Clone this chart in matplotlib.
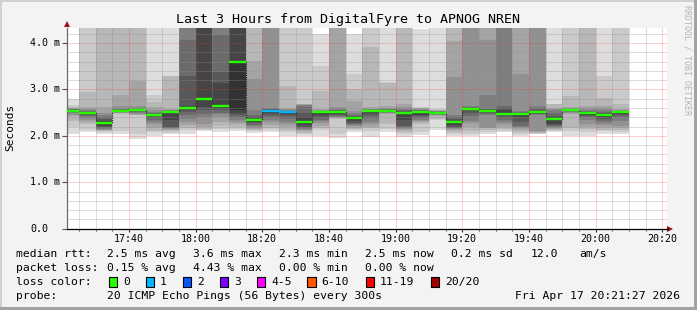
import numpy as np
import pandas as pd
import matplotlib
matplotlib.use("Agg")
import matplotlib.pyplot as plt
from matplotlib.patches import Rectangle, Polygon
from matplotlib.transforms import blended_transform_factory

# 5-minute slots, 20 sorted ping times (ms) per slot; values above the plot top are clipped
first_slot = "17:20"
slot_minutes = 5
median_ms = [2.54, 2.49, 2.28, 2.54, 2.56, 2.46, 2.51, 2.60, 2.80, 2.64, 3.60, 2.35,
             2.54, 2.51, 2.30, 2.51, 2.51, 2.39, 2.54, 2.54, 2.50, 2.51, 2.50, 2.29,
             2.59, 2.54, 2.48, 2.47, 2.51, 2.36, 2.56, 2.49, 2.45, 2.51]
lost_pings = [0] * 12 + [1, 1] + [0] * 20
pings = [
    [2.04, 2.20, 2.33, 2.42, 2.44, 2.49, 2.51, 2.52, 2.53, 2.54, 2.55, 2.55, 2.56, 2.57, 2.58, 2.59, 2.60, 2.62, 2.66, 2.80],
    [2.08, 2.13, 2.26, 2.30, 2.35, 2.38, 2.42, 2.45, 2.47, 2.48, 2.50, 2.51, 2.52, 2.54, 2.56, 2.58, 2.62, 2.94, 4.60, 5.00],
    [2.05, 2.08, 2.11, 2.12, 2.13, 2.15, 2.17, 2.19, 2.22, 2.26, 2.29, 2.32, 2.36, 2.40, 2.45, 2.49, 2.62, 4.50, 4.80, 5.20],
    [2.03, 2.10, 2.47, 2.49, 2.50, 2.51, 2.52, 2.52, 2.53, 2.535, 2.545, 2.55, 2.56, 2.57, 2.58, 2.65, 2.89, 4.50, 4.90, 5.40],
    [1.93, 2.04, 2.44, 2.46, 2.48, 2.50, 2.52, 2.53, 2.54, 2.555, 2.565, 2.57, 2.58, 2.59, 2.60, 2.65, 3.19, 4.50, 4.80, 5.10],
    [2.00, 2.08, 2.11, 2.18, 2.25, 2.29, 2.35, 2.40, 2.44, 2.455, 2.465, 2.47, 2.48, 2.50, 2.52, 2.56, 2.62, 2.72, 2.89, 4.60],
    [2.04, 2.07, 2.10, 2.12, 2.14, 2.16, 2.18, 2.20, 2.35, 2.50, 2.515, 2.52, 2.53, 2.54, 2.55, 2.56, 2.58, 3.28, 3.30, 4.70],
    [2.04, 2.12, 2.18, 2.24, 2.30, 2.36, 2.45, 2.52, 2.58, 2.595, 2.61, 2.65, 3.30, 4.07, 4.50, 4.60, 4.80, 5.00, 5.30, 5.60],
    [2.10, 2.12, 2.15, 2.20, 2.26, 2.40, 2.47, 2.55, 2.62, 2.78, 2.82, 4.40, 4.50, 4.60, 4.70, 4.80, 5.00, 5.20, 5.50, 6.00],
    [2.08, 2.15, 2.22, 2.30, 2.40, 2.47, 2.50, 2.55, 2.60, 2.63, 2.65, 3.13, 3.38, 4.17, 4.50, 4.60, 4.80, 5.00, 5.30, 5.60],
    [2.10, 2.15, 2.20, 2.26, 2.30, 2.35, 2.40, 2.45, 2.50, 2.56, 3.62, 4.50, 4.60, 4.70, 4.80, 5.00, 5.20, 5.50, 5.80, 6.20],
    [2.06, 2.10, 2.13, 2.15, 2.18, 2.21, 2.24, 2.27, 2.30, 2.34, 2.355, 2.37, 2.40, 2.45, 2.56, 3.23, 3.61, 4.50, 4.80, 5.20],
    [2.08, 2.13, 2.18, 2.24, 2.30, 2.35, 2.40, 2.45, 2.50, 2.53, 2.55, 2.56, 2.57, 2.58, 2.60, 4.50, 4.60, 4.80, 5.00, 5.40],
    [2.00, 2.08, 2.13, 2.20, 2.26, 2.30, 2.36, 2.42, 2.47, 2.50, 2.515, 2.52, 2.53, 2.54, 2.55, 2.57, 2.60, 3.08, 4.60, 5.00],
    [2.00, 2.04, 2.07, 2.10, 2.12, 2.15, 2.18, 2.20, 2.24, 2.29, 2.31, 2.40, 2.50, 2.62, 2.66, 2.67, 2.68, 2.69, 4.60, 5.00],
    [2.00, 2.12, 2.18, 2.22, 2.28, 2.33, 2.35, 2.40, 2.45, 2.50, 2.515, 2.52, 2.52, 2.53, 2.54, 2.55, 2.58, 2.96, 3.51, 4.19],
    [1.96, 2.04, 2.37, 2.39, 2.40, 2.41, 2.43, 2.45, 2.47, 2.50, 2.515, 2.52, 2.53, 2.55, 2.58, 2.62, 4.50, 4.60, 4.80, 5.10],
    [2.08, 2.12, 2.15, 2.18, 2.21, 2.24, 2.26, 2.28, 2.33, 2.38, 2.395, 2.41, 2.43, 2.46, 2.50, 2.54, 2.76, 3.01, 3.33, 4.20],
    [1.97, 2.10, 2.16, 2.20, 2.25, 2.30, 2.38, 2.45, 2.50, 2.53, 2.545, 2.55, 2.555, 2.56, 2.57, 2.58, 2.62, 3.91, 4.60, 5.00],
    [2.08, 2.15, 2.26, 2.47, 2.49, 2.50, 2.51, 2.52, 2.53, 2.535, 2.545, 2.55, 2.56, 2.57, 2.58, 2.60, 2.65, 3.15, 3.16, 4.60],
    [1.97, 2.03, 2.08, 2.12, 2.14, 2.17, 2.20, 2.22, 2.35, 2.49, 2.505, 2.52, 2.53, 2.55, 2.58, 2.62, 2.69, 4.50, 4.80, 5.20],
    [2.02, 2.08, 2.25, 2.30, 2.32, 2.34, 2.38, 2.42, 2.46, 2.50, 2.515, 2.52, 2.53, 2.55, 2.56, 2.58, 2.60, 2.61, 2.62, 4.30],
    [2.13, 2.35, 2.37, 2.42, 2.45, 2.46, 2.47, 2.48, 2.49, 2.495, 2.505, 2.51, 2.52, 2.525, 2.53, 2.54, 2.55, 2.56, 2.58, 4.60],
    [2.00, 2.05, 2.09, 2.12, 2.14, 2.16, 2.18, 2.20, 2.24, 2.28, 2.30, 2.33, 2.36, 2.40, 2.44, 3.26, 4.05, 4.50, 4.80, 5.20],
    [2.00, 2.05, 2.11, 2.20, 2.28, 2.33, 2.42, 2.50, 2.55, 2.58, 2.595, 2.60, 2.61, 2.63, 2.65, 4.50, 4.60, 4.80, 5.00, 5.40],
    [2.04, 2.08, 2.12, 2.16, 2.18, 2.45, 2.48, 2.50, 2.52, 2.53, 2.545, 2.56, 2.57, 2.58, 2.89, 4.07, 4.50, 4.80, 5.00, 5.40],
    [2.08, 2.11, 2.14, 2.20, 2.26, 2.30, 2.35, 2.40, 2.44, 2.47, 2.49, 2.55, 2.60, 2.65, 4.50, 4.60, 4.70, 4.90, 5.20, 5.60],
    [2.00, 2.04, 2.08, 2.12, 2.16, 2.20, 2.22, 2.30, 2.40, 2.46, 2.475, 2.49, 2.50, 2.52, 2.54, 3.34, 4.50, 4.80, 5.00, 5.40],
    [2.04, 2.05, 2.06, 2.09, 2.11, 2.46, 2.47, 2.48, 2.49, 2.50, 2.515, 2.53, 2.56, 2.60, 2.65, 4.50, 4.60, 4.80, 5.00, 5.40],
    [2.08, 2.10, 2.12, 2.14, 2.16, 2.19, 2.22, 2.24, 2.26, 2.35, 2.37, 2.40, 2.43, 2.50, 2.56, 2.58, 2.61, 2.68, 2.69, 4.60],
    [2.00, 2.10, 2.18, 2.48, 2.50, 2.52, 2.53, 2.54, 2.55, 2.555, 2.56, 2.565, 2.57, 2.58, 2.59, 2.60, 2.62, 2.85, 4.60, 5.00],
    [2.00, 2.08, 2.14, 2.20, 2.26, 2.35, 2.40, 2.43, 2.46, 2.48, 2.495, 2.50, 2.51, 2.53, 2.56, 2.60, 2.65, 4.50, 4.80, 5.20],
    [2.04, 2.10, 2.13, 2.18, 2.24, 2.28, 2.32, 2.36, 2.40, 2.44, 2.455, 2.47, 2.49, 2.52, 2.56, 2.60, 2.65, 2.82, 3.28, 4.60],
    [2.04, 2.08, 2.13, 2.18, 2.22, 2.33, 2.40, 2.45, 2.48, 2.50, 2.51, 2.515, 2.52, 2.53, 2.54, 2.56, 2.58, 2.69, 4.60, 5.00],
]

loss_labels = ["0", "1", "2", "3", "4-5", "6-10", "11-19", "20/20"]
loss_colors = ["#26ff00", "#00b8ff", "#0059ff", "#7e00ff", "#ff00ff", "#ff5500", "#ff0000", "#a10000"]

stats_rtt = ["2.5 ms avg", "3.6 ms max", "2.3 ms min", "2.5 ms now", "0.2 ms sd", "12.0", "am/s"]
stats_loss = ["0.15 % avg", "4.43 % max", "0.00 % min", "0.00 % now"]
probe_text = "20 ICMP Echo Pings (56 Bytes) every 300s"
stamp = "Fri Apr 17 20:21:27 2026"
window_end = "20:21:27"

MONO = "DejaVu Sans Mono"
W, H = 697, 310

fig = plt.figure(figsize=(W / 100, H / 100), dpi=100, facecolor="#f3f3f3")


def fx(px):
    return px / W


def fy(py):
    return 1 - py / H


# frame shading like rrdtool
fig.patches.append(Rectangle((0, fy(2)), 1, 2 / H, transform=fig.transFigure, color="#d0d0d0", lw=0))
fig.patches.append(Rectangle((0, 0), 2 / W, 1, transform=fig.transFigure, color="#d0d0d0", lw=0))
fig.patches.append(Rectangle((0, 0), 1, 3 / H, transform=fig.transFigure, color="#a3a3a3", lw=0))
fig.patches.append(Rectangle((fx(694), 0), 3 / W, 1, transform=fig.transFigure, color="#a3a3a3", lw=0))

ax = fig.add_axes([fx(67), fy(228.7), 600 / W, 200.7 / H])
ax.set_facecolor("white")

# time in minutes after 17:00
base = pd.Timestamp("2026-04-17 17:00")
slots = pd.date_range("2026-04-17 " + first_slot, periods=len(median_ms), freq=f"{slot_minutes}min")
slot_x = (slots - base).total_seconds() / 60
end_x = (pd.Timestamp("2026-04-17 " + window_end) - base).total_seconds() / 60
ax.set_xlim(end_x - 180, end_x)
ax.set_ylim(0, 4.325)

# smoke: nested layers, outermost lightest
for x, p in zip(slot_x, pings):
    for k in range(10):
        g = int(190 / 10 * (10 - (k + 1))) + 50
        ax.bar(x, p[19 - k] - p[k], bottom=p[k], width=slot_minutes, align="edge",
               color="#%02x%02x%02x" % (g, g, g), lw=0, zorder=1)

# median: dotted step connector + coloured band by loss
edges = list(slot_x) + [slot_x[-1] + slot_minutes]
ax.step(edges, list(median_ms) + [median_ms[-1]], where="post", color="#202020",
        lw=0.8, ls=(0, (1, 1)), zorder=3)
for x, m, l in zip(slot_x, median_ms, lost_pings):
    ax.hlines(m, x, x + slot_minutes, color=loss_colors[l], lw=1.7, zorder=4)

# grid (semi-transparent, drawn over the smoke)
ax.set_yticks(np.arange(0, 4.01, 1.0))
ax.set_yticks(np.arange(0, 4.33, 0.2), minor=True)
ax.set_xticks(np.arange(40, 201, 20))
ax.set_xticks(np.arange(25, 201, 5), minor=True)
ax.grid(which="minor", color="#8e8e8e", alpha=0.6, ls=(0, (1, 1)), lw=0.72)
ax.grid(which="major", color="#ff3030", alpha=0.45, ls=(0, (1, 1)), lw=0.72)
ax.set_axisbelow(False)

ax.set_xticklabels([f"{17 + int(m) // 60}:{int(m) % 60:02d}" for m in np.arange(40, 201, 20)],
                   family=MONO, fontsize=7.2)
ax.set_yticklabels([])
ax.tick_params(axis="x", which="major", length=2.5, width=0.8, pad=1, color="#303030")
ax.tick_params(axis="x", which="minor", length=1.5, width=0.6, color="#303030")
ax.tick_params(axis="y", which="major", length=3.5, width=0.8, color="#505050")
ax.tick_params(axis="y", which="minor", length=0)

ylab_tf = blended_transform_factory(fig.transFigure, ax.transData)
for v in np.arange(0, 4.01, 1.0):
    lab = "0.0" if v == 0 else f"{v:.1f} m"
    ax.text(fx(30), v, lab, transform=ylab_tf, ha="left", va="center", family=MONO, fontsize=7.2)

for s in ["top", "right"]:
    ax.spines[s].set_visible(False)
ax.spines["left"].set_color("#6a6a6a")
ax.spines["bottom"].set_color("#000000")
ax.spines["left"].set_linewidth(0.9)
ax.spines["bottom"].set_linewidth(0.9)

# axis arrows
fig.patches.append(Polygon([(fx(64), fy(27)), (fx(70), fy(27)), (fx(67), fy(21))], closed=True,
                           transform=fig.transFigure, color="#a01010", lw=0))
fig.add_artist(plt.Line2D([fx(667), fx(668)], [fy(228.7), fy(228.7)], color="black", lw=0.9))
fig.patches.append(Polygon([(fx(667), fy(226), ), (fx(667), fy(232)), (fx(673), fy(229))], closed=True,
                           transform=fig.transFigure, color="#a01010", lw=0))

# titles
fig.text(fx(348), fy(19), "Last 3 Hours from DigitalFyre to APNOG NREN", ha="center", va="center",
         family=MONO, fontsize=9.6)
fig.text(fx(10), fy(127), "Seconds", rotation=90, ha="center", va="center", family=MONO, fontsize=8)
fig.text(fx(687), fy(60), "RRDTOOL / TOBI OETIKER", rotation=270, ha="center", va="center",
         family=MONO, fontsize=6, color="#b4b4b4")

# legend block
fs = 8.2
rows_y = [254.3, 268.3, 282.3, 296.0]
fig.text(fx(16), fy(rows_y[0]), "median rtt:", va="center", family=MONO, fontsize=fs)
for xpx, t in zip([107, 193, 279, 365, 451, 531, 579], stats_rtt):
    fig.text(fx(xpx), fy(rows_y[0]), t, va="center", family=MONO, fontsize=fs)
fig.text(fx(16), fy(rows_y[1]), "packet loss:", va="center", family=MONO, fontsize=fs)
for xpx, t in zip([107, 193, 279, 365], stats_loss):
    fig.text(fx(xpx), fy(rows_y[1]), t, va="center", family=MONO, fontsize=fs)
fig.text(fx(16), fy(rows_y[2]), "loss color:", va="center", family=MONO, fontsize=fs)
box_x = [108.5, 145.5, 182.5, 219.5, 256.5, 307, 365.5, 430.5]
for bx, lab, col in zip(box_x, loss_labels, loss_colors):
    fig.patches.append(Rectangle((fx(bx), fy(287)), 8.5 / W, 10.5 / H, transform=fig.transFigure,
                                 facecolor=col, edgecolor="black", lw=0.8))
    fig.text(fx(bx + 14.5), fy(rows_y[2]), lab, va="center", family=MONO, fontsize=fs)
fig.text(fx(16), fy(rows_y[3]), "probe:", va="center", family=MONO, fontsize=fs)
fig.text(fx(107), fy(rows_y[3]), probe_text, va="center", family=MONO, fontsize=fs)
fig.text(fx(680), fy(rows_y[3]), stamp, va="center", ha="right", family=MONO, fontsize=fs)

fig.savefig("out.png", dpi=100, facecolor=fig.get_facecolor())
